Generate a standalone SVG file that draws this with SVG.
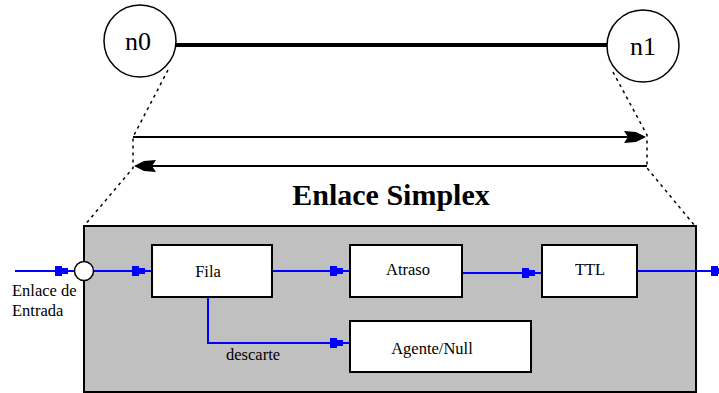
<svg xmlns="http://www.w3.org/2000/svg" width="719" height="393" viewBox="0 0 719 393">
<style>
text{font-family:"Liberation Serif",serif;fill:#000}
.sm{font-size:16.5px}
.node{fill:#fff;stroke:#000;stroke-width:2}
.blue{stroke:#0000ff;stroke-width:2;fill:none}
.dash{stroke:#000;stroke-width:1.5;fill:none;stroke-dasharray:3,4}
.ab{fill:#0000ff}
</style>
<defs>
<path id="ab" d="M-20,-5 h7 v2 h6 v6 h-6 v2 h-7 Z"/>
</defs>
<rect width="719" height="393" fill="#fff"/>
<g id="guides">
<path class="dash" d="M168,70 L133,137 L133,168 L84,226"/>
<path class="dash" d="M613,72 L647,135 L647,168 L695,226"/>
</g>
<g id="link">
<line x1="176" y1="45" x2="608" y2="45" stroke="#000" stroke-width="4"/>
</g>
<g id="n0">
<circle cx="140" cy="41" r="36" fill="#fff" stroke="#000" stroke-width="1.5"/>
<text x="138" y="50" font-size="26" font-family="Liberation Serif" text-anchor="middle">n0</text>
</g>
<g id="n1">
<circle cx="643" cy="46" r="36" fill="#fff" stroke="#000" stroke-width="1.5"/>
<text x="643" y="55" font-size="26" font-family="Liberation Serif" text-anchor="middle">n1</text>
</g>
<g id="arrows">
<line x1="133" y1="137" x2="636" y2="137" stroke="#000" stroke-width="2"/>
<path d="M646,137 L636,132 L624,131 L628,137 L624,143 L636,142 Z" fill="#000"/>
<line x1="144" y1="166" x2="647" y2="166" stroke="#000" stroke-width="2"/>
<path d="M134,166 L144,161 L156,160 L152,166 L156,172 L144,171 Z" fill="#000"/>
</g>
<text x="391" y="205" font-size="30" font-family="Liberation Serif" font-weight="bold" text-anchor="middle">Enlace Simplex</text>
<g id="simplex">
<rect x="84" y="226" width="612" height="166" fill="#c0c0c0" stroke="#000" stroke-width="2"/>
</g>
<g id="connectors">
<line class="blue" x1="15" y1="271" x2="75" y2="271"/>
<use href="#ab" class="ab" x="75" y="271"/>
<line class="blue" x1="93" y1="271" x2="152" y2="271"/>
<use href="#ab" class="ab" x="152" y="271"/>
<line class="blue" x1="272" y1="271" x2="350" y2="271"/>
<use href="#ab" class="ab" x="350" y="271"/>
<line class="blue" x1="462" y1="273" x2="542" y2="273"/>
<use href="#ab" class="ab" x="542" y="273"/>
<line class="blue" x1="637" y1="271" x2="719" y2="271"/>
<use href="#ab" class="ab" x="731" y="271"/>
<polyline class="blue" points="208,297 208,343 350,343"/>
<use href="#ab" class="ab" x="350" y="343"/>
</g>
<g id="entrada">
<circle cx="84" cy="271" r="9.5" fill="#fff" stroke="#000" stroke-width="1.5"/>
<text class="sm" font-family="Liberation Serif" x="12" y="296">Enlace de</text>
<text class="sm" font-family="Liberation Serif" x="12" y="316">Entrada</text>
</g>
<g id="fila">
<rect class="node" x="152" y="245" width="120" height="52"/>
<text class="sm" font-family="Liberation Serif" x="208" y="277" text-anchor="middle">Fila</text>
</g>
<g id="atraso">
<rect class="node" x="350" y="245" width="112" height="52"/>
<text class="sm" font-family="Liberation Serif" x="408" y="275" text-anchor="middle">Atraso</text>
</g>
<g id="ttl">
<rect class="node" x="542" y="245" width="95" height="52"/>
<text class="sm" font-family="Liberation Serif" x="590" y="275" text-anchor="middle">TTL</text>
</g>
<g id="agente">
<rect class="node" x="350" y="321" width="181" height="51"/>
<text class="sm" font-family="Liberation Serif" x="432" y="354" text-anchor="middle">Agente/Null</text>
</g>
<text class="sm" font-family="Liberation Serif" x="226" y="360">descarte</text>
</svg>
